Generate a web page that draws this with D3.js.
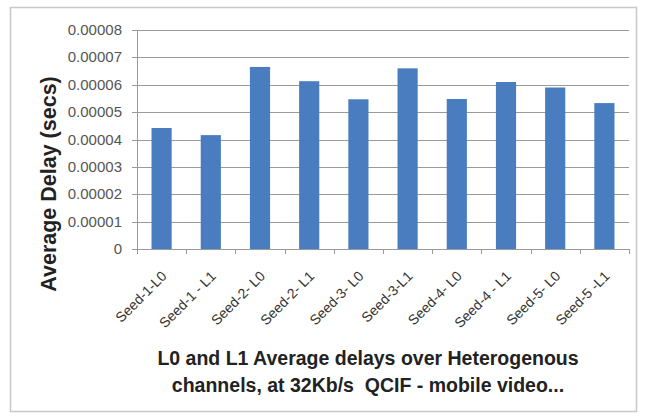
<!DOCTYPE html>
<html>
<head>
<meta charset="utf-8">
<script src="https://cdn.jsdelivr.net/npm/d3@7"></script>
<style>
  html, body { margin: 0; padding: 0; background: #fff; }
  svg { display: block; }
  text { font-family: "Liberation Sans", Arial, sans-serif; white-space: pre; }
</style>
</head>
<body>
<svg id="chart" width="645" height="418"></svg>
<script>
// Average delay per seed and layer (seconds)
const categories = ["Seed-1-L0", "Seed-1 - L1", "Seed-2- L0", "Seed-2- L1", "Seed-3- L0",
                    "Seed-3-L1", "Seed-4- L0", "Seed-4 - L1", "Seed-5- L0", "Seed-5 -L1"];
const delays = [0.0000442, 0.0000416, 0.0000665, 0.0000613, 0.0000547,
                0.0000660, 0.0000548, 0.0000610, 0.0000590, 0.0000533];
const yTicks = [0, 0.00001, 0.00002, 0.00003, 0.00004, 0.00005, 0.00006, 0.00007, 0.00008];
const yTitle = "Average Delay (secs)";
const xTitleLines = ["L0 and L1 Average delays over Heterogenous",
                     "channels, at 32Kb/s  QCIF - mobile video..."];

const svg = d3.select("#chart");
const plot = { left: 137, right: 629, top: 30, bottom: 249 };

// outer chart frame
svg.append("rect")
  .attr("x", 10.5).attr("y", 7.5).attr("width", 626).attr("height", 404)
  .attr("fill", "#fff").attr("stroke", "#c8c8c8").attr("stroke-width", 1.5);

const x = d3.scaleBand().domain(categories).range([plot.left, plot.right]).paddingInner(0.59).paddingOuter(0.295);
const y = d3.scaleLinear().domain([0, 0.00008]).range([plot.bottom, plot.top]);

// horizontal gridlines with short left ticks
svg.append("g").selectAll("line").data(yTicks).join("line")
  .attr("x1", plot.left - 5).attr("x2", plot.right)
  .attr("y1", d => Math.round(y(d)) + 0.5).attr("y2", d => Math.round(y(d)) + 0.5)
  .attr("stroke", "#9a9a9a").attr("stroke-width", 1);

// y tick labels
svg.append("g").selectAll("text").data(yTicks).join("text")
  .attr("x", 122).attr("y", d => y(d) + 5)
  .attr("text-anchor", "end")
  .attr("font-size", 15).attr("fill", "#555")
  .text(d => d === 0 ? "0" : d.toFixed(5));

// left axis line
svg.append("line")
  .attr("x1", plot.left + 0.5).attr("x2", plot.left + 0.5)
  .attr("y1", plot.top).attr("y2", plot.bottom)
  .attr("stroke", "#9a9a9a");

// bars
svg.append("g").selectAll("rect").data(delays).join("rect")
  .attr("x", (d, i) => x(categories[i]))
  .attr("width", x.bandwidth())
  .attr("y", d => y(d))
  .attr("height", d => y(0) - y(d))
  .attr("fill", "#4a7dbf");

// x axis ticks at category boundaries
const step = x.step();
const edges = d3.range(categories.length + 1).map(i => plot.left + i * step);
svg.append("g").selectAll("line").data(edges).join("line")
  .attr("x1", d => Math.round(d) + 0.5).attr("x2", d => Math.round(d) + 0.5)
  .attr("y1", plot.bottom).attr("y2", plot.bottom + 5)
  .attr("stroke", "#9a9a9a");

// rotated category labels
svg.append("g").selectAll("text").data(categories).join("text")
  .attr("transform", d => `translate(${x(d) + x.bandwidth() / 2 + 6},${plot.bottom + 28}) rotate(-45)`)
  .attr("text-anchor", "end")
  .attr("font-size", 14).attr("fill", "#333")
  .text(d => d);

// axis titles
svg.append("text")
  .attr("transform", "translate(56,184) rotate(-90)")
  .attr("text-anchor", "middle")
  .attr("font-size", 21.5).attr("font-weight", "bold").attr("fill", "#222")
  .text(yTitle);

svg.append("g").selectAll("text").data(xTitleLines).join("text")
  .attr("x", 368).attr("y", (d, i) => 365 + i * 27)
  .attr("text-anchor", "middle")
  .attr("font-size", 19.5).attr("font-weight", "bold").attr("fill", "#222")
  .text(d => d);
</script>
</body>
</html>
